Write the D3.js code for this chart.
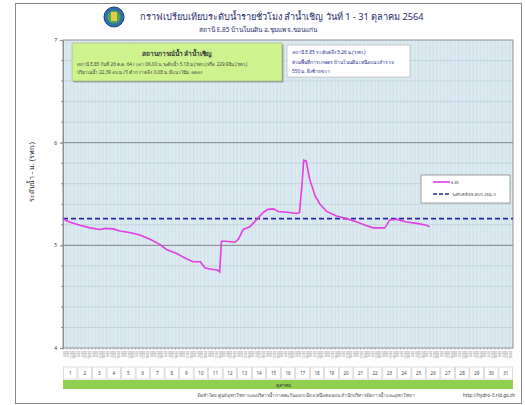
<!DOCTYPE html>
<html>
<head>
<meta charset="utf-8">
<script src="https://cdn.jsdelivr.net/npm/d3@7"></script>
<style>
  body { margin: 0; background: #fff; }
  svg text { font-family: "Noto Sans", "DejaVu Sans", sans-serif; }
</style>
</head>
<body>
<div id="chart"></div>
<script>
// hourly water level at E.85 (day hour, m. MSL)
const times = ["1 00:00","1 06:00","1 12:00","2 04:00","2 21:00","3 13:00","3 22:00","4 11:00","4 22:00","5 14:00",
  "6 07:00","7 00:00","7 16:00","8 03:00","8 20:00","9 12:00","9 23:00","10 11:00","10 19:00","11 03:00",
  "11 15:00","11 19:00","11 22:00","12 06:00","12 20:00","13 02:00","13 10:00","13 21:00","14 08:00","14 19:00",
  "15 03:00","15 12:00","15 20:00","16 15:00","17 02:00","17 07:00","17 11:00","17 14:00","17 18:00","18 00:00",
  "18 09:00","18 17:00","19 04:00","19 20:00","20 13:00","21 06:00","21 22:00","22 09:00","23 04:00","23 12:00",
  "23 23:00","24 16:00","25 09:00","26 01:00","26 06:00"];
const levels = [5.26,5.24,5.225,5.195,5.17,5.155,5.165,5.16,5.14,5.125,
  5.10,5.06,5.01,4.96,4.92,4.87,4.84,4.84,4.78,4.77,
  4.76,4.74,5.04,5.04,5.03,5.06,5.155,5.18,5.25,5.32,
  5.35,5.355,5.33,5.32,5.31,5.32,5.58,5.83,5.82,5.64,
  5.48,5.40,5.33,5.285,5.26,5.227,5.19,5.17,5.17,5.245,
  5.255,5.227,5.214,5.195,5.18];
const bankLevel = 5.26;
const days = d3.range(1, 32);
const yTicks = [4, 5, 6, 7];
const hourTicks = ["0:00", "6:00", "12:00", "18:00"];

const parseTime = d3.timeParse("%Y-%m-%d %H:%M");
const series = times.map((t, i) => {
  let [day, hm] = t.split(" ");
  return {date: parseTime("2021-10-" + day.padStart(2, "0") + " " + hm), level: levels[i]};
});

const width = 525, height = 405;
const margin = {top: 40, right: 12, bottom: 57, left: 63};
const plotW = width - margin.left - margin.right;
const plotH = height - margin.top - margin.bottom;

const svg = d3.select("#chart").append("svg")
  .attr("width", width).attr("height", height);

// outer frame
svg.append("rect").attr("x", 15.5).attr("y", 3.5).attr("width", 506).attr("height", 400)
  .attr("fill", "#fff").attr("stroke", "#8a8a8a");

// header: logo + titles
let logo = svg.append("g").attr("transform", "translate(114,17)");
logo.append("circle").attr("r", 10).attr("fill", "#2f6fb0").attr("stroke", "#1a3f7a");
logo.append("circle").attr("r", 6.5).attr("fill", "#4fa84a");
logo.append("rect").attr("x", -3).attr("y", -5).attr("width", 6).attr("height", 9).attr("fill", "#e8c84a");
svg.append("text").attr("x", 140).attr("y", 20)
  .attr("font-size", 9.2).attr("fill", "#1f2a6a")
  .text("กราฟเปรียบเทียบระดับน้ำรายชั่วโมง  ลำน้ำเชิญ วันที่ 1 - 31 ตุลาคม 2564");
svg.append("text").attr("x", 258).attr("y", 32).attr("text-anchor", "middle")
  .attr("font-size", 6.5).attr("fill", "#1f2a6a")
  .text("สถานี E.85 บ้านโนนดิน อ.ชุมแพ จ.ขอนแก่น");

const g = svg.append("g").attr("transform", `translate(${margin.left},${margin.top})`);

const x = d3.scaleTime()
  .domain([new Date(2021, 9, 1), new Date(2021, 10, 1)])
  .range([0, plotW]);
const y = d3.scaleLinear().domain([4, 7]).range([plotH, 0]);

// plot background
g.append("rect").attr("width", plotW).attr("height", plotH).attr("fill", "#dcebf1");

// vertical grid every 6 hours
g.append("g").selectAll("line")
  .data(d3.timeHour.every(6).range(x.domain()[0], x.domain()[1]).slice(1))
  .join("line")
  .attr("x1", d => x(d)).attr("x2", d => x(d))
  .attr("y1", 0).attr("y2", plotH)
  .attr("stroke", "#c9dae2").attr("stroke-width", 0.6);

// horizontal minor grid every 0.2 m
g.append("g").selectAll("line")
  .data(d3.range(4.2, 7, 0.2).filter(v => Math.abs(v - Math.round(v)) > 0.01))
  .join("line")
  .attr("x1", 0).attr("x2", plotW)
  .attr("y1", d => y(d)).attr("y2", d => y(d))
  .attr("stroke", "#b9ccd5").attr("stroke-width", 0.7);

// major horizontal
g.append("g").selectAll("line")
  .data(yTicks.slice(1, 3))
  .join("line")
  .attr("x1", 0).attr("x2", plotW)
  .attr("y1", d => y(d)).attr("y2", d => y(d))
  .attr("stroke", "#7f8487").attr("stroke-width", 1);

g.append("rect").attr("width", plotW).attr("height", plotH)
  .attr("fill", "none").attr("stroke", "#8a8f92");

// y axis
let yAxis = g.append("g").call(d3.axisLeft(y).tickValues(yTicks).tickFormat(d3.format("d")).tickSize(3).tickPadding(3));
yAxis.select(".domain").attr("stroke", "#8a8f92");
yAxis.selectAll("line").attr("stroke", "#8a8f92");
yAxis.selectAll("text").attr("font-size", 5).attr("fill", "#333");
g.append("g").selectAll("line")
  .data(d3.range(4.2, 7, 0.2))
  .join("line")
  .attr("x1", -2).attr("x2", 0).attr("y1", d => y(d)).attr("y2", d => y(d))
  .attr("stroke", "#8a8f92");

svg.append("text")
  .attr("transform", "translate(34,172) rotate(-90)")
  .attr("text-anchor", "middle").attr("font-size", 7).attr("fill", "#222")
  .text("ระดับน้ำ - ม. (รทก.)");

// bank level dashed line
g.append("line")
  .attr("x1", 0).attr("x2", plotW)
  .attr("y1", y(bankLevel)).attr("y2", y(bankLevel))
  .attr("stroke", "#2424a8").attr("stroke-width", 1.8).attr("stroke-dasharray", "5,3");

// level line
let line = d3.line().x(d => x(d.date)).y(d => y(d.level));
g.append("path").datum(series)
  .attr("d", line).attr("fill", "none")
  .attr("stroke", "#e23ee6").attr("stroke-width", 1.6);

// x tick labels (rotated, tiny)
let slots = d3.timeHour.every(6).range(x.domain()[0], x.domain()[1]);
g.append("g").selectAll("text")
  .data(slots)
  .join("text")
  .attr("transform", d => `translate(${x(d) + 2.5},${plotH + 3}) rotate(-90)`)
  .attr("text-anchor", "end").attr("font-size", 3).attr("fill", "#777")
  .text(d => hourTicks[d.getHours() / 6]);
g.append("g").selectAll("line")
  .data(slots)
  .join("line")
  .attr("x1", d => x(d)).attr("x2", d => x(d))
  .attr("y1", plotH).attr("y2", plotH + 2)
  .attr("stroke", "#8a8f92").attr("stroke-width", 0.5);

// day boxes
let dayW = plotW / 31;
let dayRow = g.append("g").attr("transform", `translate(0,${plotH + 19})`);
dayRow.selectAll("rect")
  .data(days)
  .join("rect")
  .attr("x", d => x(new Date(2021, 9, d)) + 0.5).attr("y", 0)
  .attr("width", dayW - 1).attr("height", 12)
  .attr("fill", "#fff").attr("stroke", "#c8c8c8").attr("stroke-width", 0.6);
dayRow.selectAll("text")
  .data(days)
  .join("text")
  .attr("x", d => x(new Date(2021, 9, d)) + dayW / 2).attr("y", 8)
  .attr("text-anchor", "middle").attr("font-size", 4.5).attr("fill", "#444")
  .text(d => d);

// month bar
g.append("rect").attr("x", 0).attr("y", plotH + 32)
  .attr("width", plotW).attr("height", 9).attr("fill", "#8fd14f");
g.append("text").attr("x", plotW / 2 - 5).attr("y", plotH + 38.5)
  .attr("font-size", 5).attr("fill", "#333").attr("text-anchor", "middle")
  .text("ตุลาคม");

// footer
svg.append("text").attr("x", 197).attr("y", 397)
  .attr("font-size", 4.6).attr("fill", "#444")
  .text("จัดทำโดย ศูนย์อุทกวิทยาและบริหารน้ำภาคตะวันออกเฉียงเหนือตอนบน สำนักบริหารจัดการน้ำและอุทกวิทยา");
svg.append("text").attr("x", 515).attr("y", 397).attr("text-anchor", "end")
  .attr("font-size", 4.8).attr("fill", "#444")
  .text("http://hydro-3.rid.go.th");

// situation box
let box1 = svg.append("g").attr("transform", "translate(72,43)");
box1.append("rect").attr("x", 1.5).attr("y", 1.5).attr("width", 210).attr("height", 38).attr("fill", "#9aa3a0");
box1.append("rect").attr("width", 210).attr("height", 38)
  .attr("fill", "#ccf38e").attr("stroke", "#9bb07a").attr("stroke-width", 0.6);
box1.append("text").attr("x", 105).attr("y", 13).attr("text-anchor", "middle")
  .attr("font-size", 6.5).attr("font-weight", "bold").attr("fill", "#333")
  .text("สถานการณ์น้ำ ลำน้ำเชิญ");
box1.append("text").attr("x", 5).attr("y", 23).attr("font-size", 4.6).attr("fill", "#444")
  .text("สถานี E.85 วันที่ 26 ต.ค. 64  เวลา  06.00 น.ระดับน้ำ  5.18 ม.(รทก.) หรือ 229.98ม.(รทก.)");
box1.append("text").attr("x", 5).attr("y", 31).attr("font-size", 4.6).attr("fill", "#444")
  .text("ปริมาณน้ำ  22.39  ลบ.ม./วิ ต่ำกว่าตลิ่ง  0.08 ม. มีแนวโน้ม ลดลง");

// bank info box
let box2 = svg.append("g").attr("transform", "translate(287,45)");
box2.append("rect").attr("width", 123).attr("height", 32)
  .attr("fill", "#fff").attr("stroke", "#b0b0b0").attr("stroke-width", 0.6);
["สถานี E.85 ระดับตลิ่ง  5.26 ม.(รทก.)", "ท่วมพื้นที่การเกษตร บ้านโนนดิน เหนือแนวสำรวจ", "550 ม. ฝั่งซ้ายขวา"]
  .forEach((t, i) => {
    box2.append("text").attr("x", 5).attr("y", 9 + i * 9.5)
      .attr("font-size", 4.8).attr("fill", "#1c2b8c").text(t);
  });

// legend
let legend = svg.append("g").attr("transform", "translate(421,175)");
legend.append("rect").attr("width", 89).attr("height", 28)
  .attr("fill", "#fff").attr("stroke", "#7a7a7a").attr("stroke-width", 0.7);
legend.append("line").attr("x1", 12).attr("x2", 29).attr("y1", 7).attr("y2", 7)
  .attr("stroke", "#e23ee6").attr("stroke-width", 1.6);
legend.append("text").attr("x", 30).attr("y", 8.5).attr("font-size", 4.2).attr("fill", "#444").text("E.85");
legend.append("line").attr("x1", 12).attr("x2", 29).attr("y1", 19).attr("y2", 19)
  .attr("stroke", "#2424a8").attr("stroke-width", 1.6).attr("stroke-dasharray", "4,2");
legend.append("text").attr("x", 31).attr("y", 20.5).attr("font-size", 4.2).attr("fill", "#444")
  .text("ระดับตลิ่ง(E.85(5.26ม.))");
</script>
</body>
</html>
